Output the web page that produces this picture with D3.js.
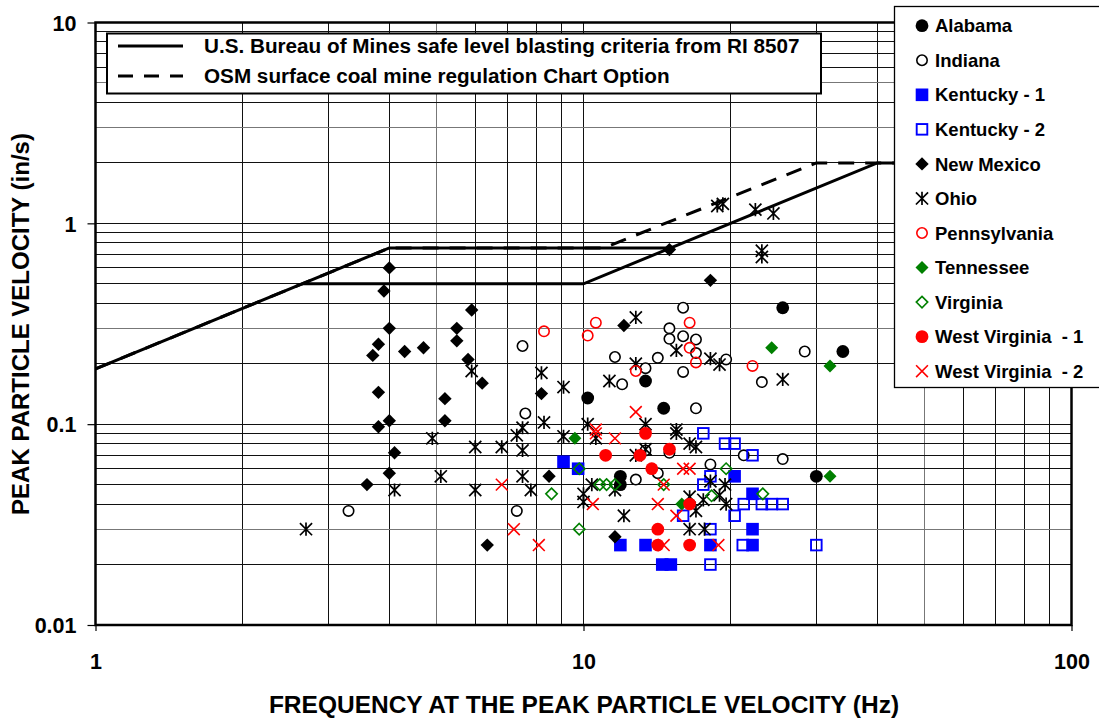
<!DOCTYPE html>
<html>
<head>
<meta charset="utf-8">
<script src="https://cdn.jsdelivr.net/npm/d3@7"></script>
<style>
  html, body { margin: 0; padding: 0; background: #fff; }
  svg { display: block; }
  text { font-family: "Liberation Sans", Arial, sans-serif; font-weight: bold; fill: #000; }
</style>
</head>
<body>
<svg id="chart" width="1099" height="722"></svg>
<script>
// ---------------- DATA ----------------
const xTicks = [1, 10, 100];
const yTicks = [0.01, 0.1, 1, 10];
const xTitle = "FREQUENCY AT THE PEAK PARTICLE VELOCITY (Hz)";
const yTitle = "PEAK PARTICLE VELOCITY (in/s)";

const criteriaNames = ["U.S. Bureau of Mines safe level blasting criteria from RI 8507",
                       "OSM surface coal mine regulation Chart Option"];
// USBM RI 8507 (two branches) and OSM chart option, [Hz, in/s]
const usbmDrywall = [[1, 0.1885], [4, 0.754], [15, 0.754]];
const usbmPlaster = [[2.65, 0.5], [10, 0.5], [40, 2.0], [100, 2.0]];
const osmChart = [[1, 0.1885], [4, 0.754], [11, 0.754], [30, 2.0], [100, 2.0]];

const seriesNames = ["Alabama", "Indiana", "Kentucky - 1", "Kentucky - 2", "New Mexico", "Ohio",
                     "Pennsylvania", "Tennessee", "Virginia", "West Virginia  - 1", "West Virginia  - 2"];

const alabama = [[25.6,0.38],[34,0.23],[30,0.055],[13.4,0.164],[10.2,0.135],[14.6,0.12],[11.9,0.055],[11.9,0.05]];
const indiana = [[7.5,0.245],[7.6,0.113],[3.3,0.037],[7.3,0.037],[16.0,0.38],[15.0,0.30],[15.0,0.266],[16.0,0.274],
  [17.0,0.264],[17.0,0.226],[11.6,0.216],[14.2,0.214],[13.4,0.19],[12.0,0.158],[16.0,0.182],[19.6,0.21],
  [23.2,0.162],[28.4,0.23],[17.0,0.12],[13.4,0.074],[15.0,0.072],[12.8,0.053],[14.2,0.057],[18.2,0.063],
  [21.3,0.07],[25.6,0.067]];
const kentucky1 = [[9.1,0.065],[9.75,0.06],[11.9,0.025],[13.4,0.025],[14.5,0.02],[15.1,0.02],[18.2,0.025],
  [20.4,0.055],[22.2,0.045],[22.2,0.03],[22.2,0.025]];
const kentucky2 = [[17.6,0.09],[19.5,0.08],[20.4,0.08],[22.2,0.07],[18.2,0.055],[17.6,0.05],[21.3,0.04],
  [23.2,0.04],[24.3,0.04],[25.6,0.04],[20.4,0.035],[16.0,0.035],[18.2,0.03],[21.2,0.025],[30,0.025],[18.2,0.02]];
const newMexico = [[4.0,0.60],[3.9,0.46],[4.0,0.30],[3.8,0.25],[3.7,0.22],[4.3,0.23],[4.7,0.24],[5.9,0.37],
  [5.5,0.30],[5.5,0.26],[5.8,0.21],[6.2,0.16],[3.8,0.144],[5.2,0.134],[5.2,0.104],[4.0,0.104],[3.8,0.097],
  [8.2,0.142],[4.1,0.072],[4.0,0.057],[3.6,0.05],[8.5,0.055],[6.35,0.025],[11.6,0.0275],[12.1,0.31],
  [15.0,0.74],[18.2,0.52]];
const ohio = [[2.7,0.03],[4.1,0.047],[4.9,0.085],[5.1,0.055],[5.9,0.184],[6.0,0.077],[6.0,0.047],[6.8,0.077],
  [7.5,0.096],[7.3,0.088],[7.5,0.074],[7.5,0.055],[7.8,0.047],[8.2,0.18],[8.3,0.102],[9.1,0.153],[9.1,0.087],
  [10,0.045],[10,0.041],[10.2,0.10],[10.6,0.085],[10.4,0.05],[11.3,0.164],[11.6,0.047],[12.1,0.035],
  [12.8,0.34],[12.8,0.20],[12.8,0.07],[13.4,0.10],[13.4,0.075],[15.5,0.233],[15.5,0.094],[15.5,0.09],
  [16.5,0.08],[17.0,0.077],[16.5,0.0435],[17.0,0.037],[17.6,0.042],[16.5,0.03],[17.7,0.03],[18.2,0.212],
  [19.0,0.198],[18.2,0.052],[19.5,0.05],[19.0,0.0443],[19.6,0.04],[18.8,1.22],[19.3,1.25],[22.5,1.17],
  [24.5,1.12],[23.2,0.73],[23.2,0.68],[25.6,0.167]];
const pennsylvania = [[8.3,0.29],[10.6,0.32],[10.2,0.276],[16.5,0.32],[16.5,0.24],[17.0,0.203],[12.8,0.184],[22.2,0.195]];
const tennessee = [[24.3,0.24],[32,0.195],[32,0.055],[9.6,0.085],[15.9,0.04]];
const virginia = [[8.6,0.045],[9.8,0.03],[9.8,0.06],[10.8,0.05],[11.15,0.05],[11.6,0.05],[14.6,0.05],
  [19.6,0.06],[18.3,0.044],[23.3,0.045]];
const westVirginia1 = [[13.4,0.09],[11.1,0.07],[13.05,0.07],[15.0,0.075],[13.8,0.06],[16.5,0.04],[14.2,0.03],
  [14.2,0.025],[16.5,0.025]];
const westVirginia2 = [[6.8,0.05],[7.2,0.03],[8.1,0.025],[12.8,0.115],[10.6,0.094],[10.6,0.09],[11.6,0.085],
  [10.45,0.04],[16.0,0.06],[16.5,0.06],[14.6,0.05],[14.2,0.04],[15.5,0.035],[14.6,0.025],[18.9,0.025]];

const seriesData = [alabama, indiana, kentucky1, kentucky2, newMexico, ohio, pennsylvania, tennessee,
                    virginia, westVirginia1, westVirginia2];

// ---------------- STYLE ----------------
const markerStyles = [
  {shape: "circle", fill: "#000", stroke: "none", size: 6.4},
  {shape: "circle", fill: "#fff", stroke: "#000", size: 5.2, sw: 1.6},
  {shape: "square", fill: "#0000ff", stroke: "none", size: 6.3},
  {shape: "square", fill: "none", stroke: "#0000ff", size: 5.3, sw: 1.9},
  {shape: "diamond", fill: "#000", stroke: "none", size: 6.7},
  {shape: "star", fill: "none", stroke: "#000", size: 6.6, sw: 1.7},
  {shape: "circle", fill: "none", stroke: "#ff0000", size: 5.2, sw: 1.6},
  {shape: "diamond", fill: "#008000", stroke: "none", size: 6.5},
  {shape: "diamond", fill: "none", stroke: "#008000", size: 5.7, sw: 1.6},
  {shape: "circle", fill: "#ff0000", stroke: "none", size: 6.4},
  {shape: "x", fill: "none", stroke: "#ff0000", size: 5.9, sw: 1.6}
];

const W = 1099, H = 722;
const L = 95.5, R = 1071.5, T = 22.5, B = 625;
const svg = d3.select("#chart");

const x = d3.scaleLog().domain([1, 100]).range([L, R]);
const y = d3.scaleLog().domain([0.01, 10]).range([B, T]);

// grid
const xGrid = [], yGrid = [];
for (let d = 1; d < 100; d *= 10) for (let k = 1; k <= 10; k++) xGrid.push(d * k);
for (let d = 0.01; d < 10; d *= 10) for (let k = 1; k <= 10; k++) yGrid.push(+(d * k).toPrecision(3));
const crisp = v => Math.round(v - 0.5) + 0.5;

const grid = svg.append("g");
grid.selectAll("line.gx").data([...new Set(xGrid)]).join("line")
  .attr("x1", d => crisp(x(d))).attr("x2", d => crisp(x(d)))
  .attr("y1", T).attr("y2", B)
  .attr("stroke", (d) => [5, 50].includes(d) ? "#777" : "#111").attr("stroke-width", 1);
grid.selectAll("line.gy").data([...new Set(yGrid)]).join("line")
  .attr("y1", d => crisp(y(d))).attr("y2", d => crisp(y(d)))
  .attr("x1", L).attr("x2", R)
  .attr("stroke", (d) => [0.03, 0.3, 3, 5].includes(d) ? "#777" : "#111").attr("stroke-width", 1);

// criteria lines
const line = d3.line().x(d => x(d[0])).y(d => y(d[1]));
const crit = svg.append("g");
crit.append("path").attr("d", line(osmChart)).attr("fill", "none").attr("stroke", "#000")
  .attr("stroke-width", 3).attr("stroke-dasharray", "16,11");
crit.append("path").attr("d", line(usbmDrywall)).attr("fill", "none").attr("stroke", "#000").attr("stroke-width", 3);
crit.append("path").attr("d", line(usbmPlaster)).attr("fill", "none").attr("stroke", "#000").attr("stroke-width", 3);

// markers
function drawMarker(g, st, cx, cy) {
  const s = st.size;
  let el;
  if (st.shape === "circle") {
    el = g.append("circle").attr("cx", cx).attr("cy", cy).attr("r", s);
  } else if (st.shape === "square") {
    el = g.append("rect").attr("x", cx - s).attr("y", cy - s).attr("width", 2 * s).attr("height", 2 * s);
  } else if (st.shape === "diamond") {
    el = g.append("path").attr("d", `M${cx},${cy - s}L${cx + s},${cy}L${cx},${cy + s}L${cx - s},${cy}Z`);
  } else if (st.shape === "star") {
    const a = s * 0.92;
    el = g.append("path").attr("d",
      `M${cx - a},${cy - a}L${cx + a},${cy + a}M${cx + a},${cy - a}L${cx - a},${cy + a}M${cx},${cy - s}L${cx},${cy + s}`);
  } else if (st.shape === "x") {
    el = g.append("path").attr("d",
      `M${cx - s},${cy - s}L${cx + s},${cy + s}M${cx + s},${cy - s}L${cx - s},${cy + s}`);
  }
  el.attr("fill", st.fill).attr("stroke", st.stroke).attr("stroke-width", st.sw || 0);
}

const pts = svg.append("g");
seriesData.forEach((data, i) => {
  const g = pts.append("g");
  data.forEach(d => drawMarker(g, markerStyles[i], x(d[0]), y(d[1])));
});

// axes
const yAxis = d3.axisLeft(y).tickValues(yTicks).tickSize(8).tickPadding(11)
  .tickFormat(d => String(d));
const gy = svg.append("g").attr("transform", `translate(${L},0)`).call(yAxis);
gy.select(".domain").remove();
gy.selectAll("line").attr("stroke", "#000").attr("stroke-width", 1.2);
gy.selectAll("text").style("font-size", "21.5px").style("font-family", '"Liberation Sans", Arial, sans-serif')
  .style("font-weight", "bold").attr("dy", "0.36em");

const xAxis = d3.axisBottom(x).tickValues(xTicks).tickSize(6).tickPadding(23).tickFormat(d => String(d));
const gx = svg.append("g").attr("transform", `translate(0,${B})`).call(xAxis);
gx.select(".domain").remove();
gx.selectAll("line").attr("stroke", "#000").attr("stroke-width", 1.2);
gx.selectAll("text").style("font-size", "21.5px").style("font-family", '"Liberation Sans", Arial, sans-serif')
  .style("font-weight", "bold");

// plot frame
svg.append("rect").attr("x", L).attr("y", T).attr("width", R - L).attr("height", B - T)
  .attr("fill", "none").attr("stroke", "#000").attr("stroke-width", 2.5);

// axis titles
svg.append("text").attr("x", 584).attr("y", 713).attr("text-anchor", "middle")
  .style("font-size", "24.5px").text(xTitle);
svg.append("text").attr("transform", "translate(29,324) rotate(-90)").attr("text-anchor", "middle")
  .style("font-size", "24px").text(yTitle);

// top legend (criteria)
const lg1 = svg.append("g");
lg1.append("rect").attr("x", 107).attr("y", 33.5).attr("width", 714).attr("height", 60)
  .attr("fill", "#fff").attr("stroke", "#000").attr("stroke-width", 2);
lg1.append("line").attr("x1", 118).attr("x2", 183).attr("y1", 46).attr("y2", 46)
  .attr("stroke", "#000").attr("stroke-width", 3);
lg1.append("line").attr("x1", 118).attr("x2", 183).attr("y1", 76).attr("y2", 76)
  .attr("stroke", "#000").attr("stroke-width", 3).attr("stroke-dasharray", "15,11");
criteriaNames.forEach((n, i) => {
  lg1.append("text").attr("x", 204).attr("y", 46 + i * 30).attr("dy", "0.36em")
    .style("font-size", "20.7px").text(n);
});

// right legend (states)
const lg2 = svg.append("g");
lg2.append("rect").attr("x", 894.5).attr("y", 6.5).attr("width", 220).attr("height", 381)
  .attr("fill", "#fff").attr("stroke", "#000").attr("stroke-width", 1.3);
seriesNames.forEach((n, i) => {
  const cy = 25.7 + i * 34.55;
  drawMarker(lg2, markerStyles[i], 922, cy);
  lg2.append("text").attr("x", 935).attr("y", cy).attr("dy", "0.36em")
    .style("font-size", "18.5px").style("white-space", "pre").text(n);
});
</script>
</body>
</html>
